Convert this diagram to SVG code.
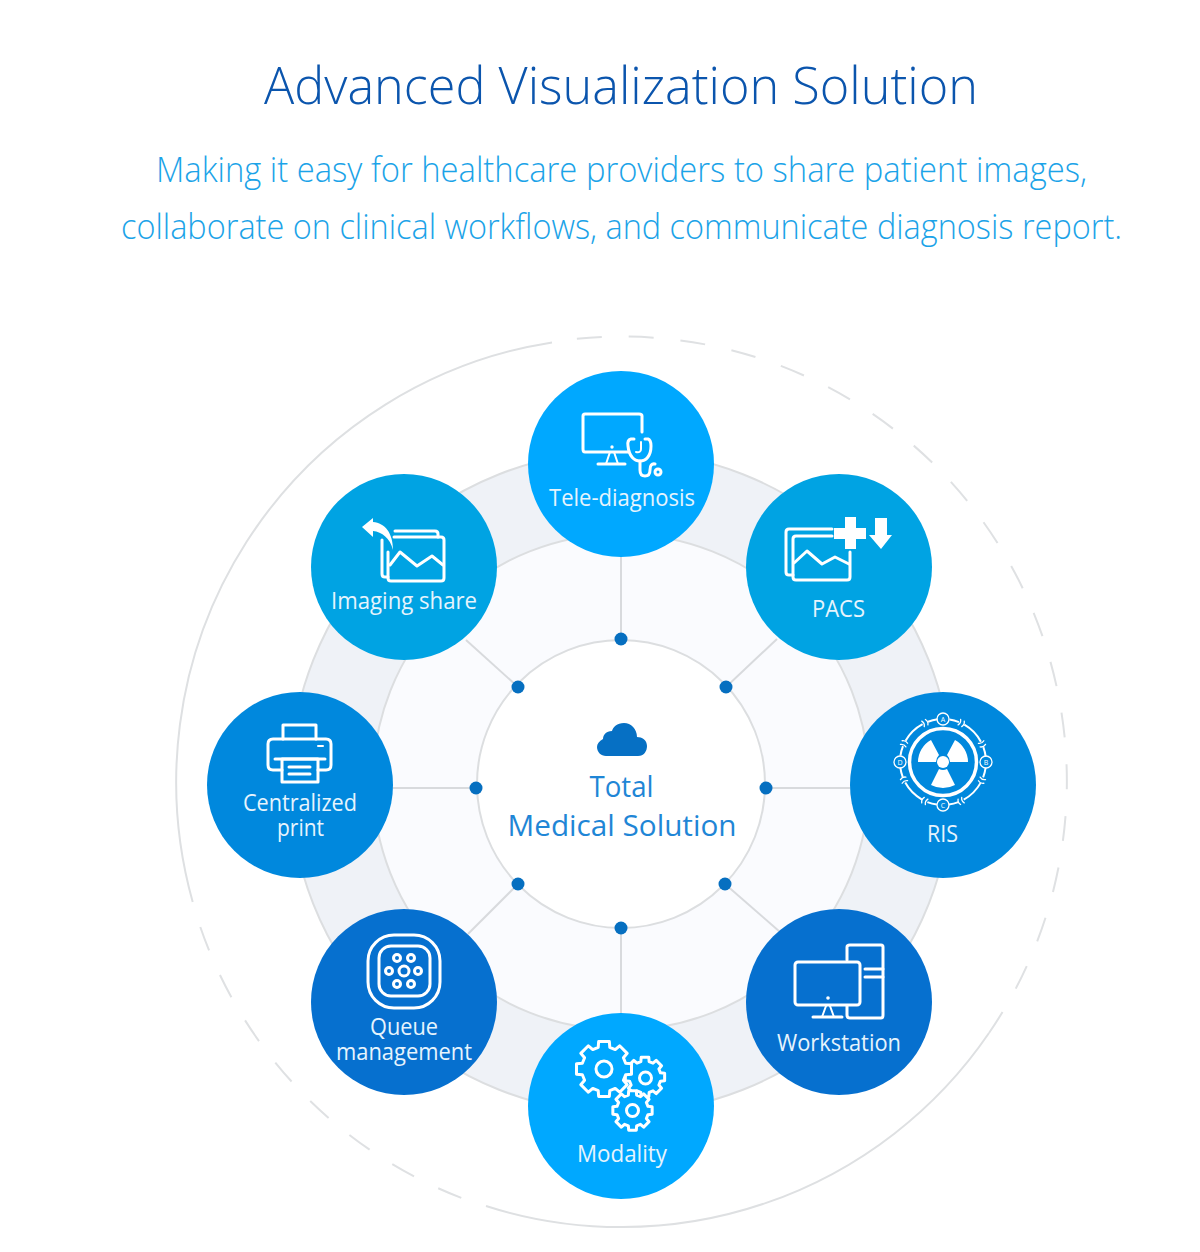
<svg xmlns="http://www.w3.org/2000/svg" width="1200" height="1252" viewBox="0 0 1200 1252">
<style>
text{font-family:"Open Sans","Noto Sans","Liberation Sans",sans-serif;text-anchor:middle}
.title{font-size:52px;font-weight:300;fill:#0b55ad}
.sub{font-size:35px;font-weight:300;fill:#1ba3e8}
.lbl{font-size:23px;fill:#e6f4fd}
.ctr{font-size:30px;fill:#1f86d6}
.ring{fill:none;stroke:#dee0e2;stroke-width:2}
.dash{fill:none;stroke:#dfe1e3;stroke-width:2;stroke-dasharray:25 26.9}
.conn{stroke:#d8dadd;stroke-width:2;fill:none}
.dot{fill:#066fc0}
.ic{fill:none;stroke:#fff;stroke-width:3;stroke-linecap:round;stroke-linejoin:round}
.th{stroke-width:2}
.sf{fill:#fff;stroke:none}
.gear{stroke:#fff;stroke-width:3;stroke-linejoin:round;vector-effect:non-scaling-stroke;fill:#00a8ff}
.tiny{font-size:7px;fill:#fff}
</style>
<defs>
<polygon id="g" class="gear" points=".773,.207 .982,.191 .982,-.191 .773,-.207 .693,-.400 .829,-.559 .559,-.829 .400,-.693 .207,-.773 .191,-.982 -.191,-.982 -.207,-.773 -.400,-.693 -.559,-.829 -.829,-.559 -.693,-.400 -.773,-.207 -.982,-.191 -.982,.191 -.773,.207 -.693,.400 -.829,.559 -.559,.829 -.400,.693 -.207,.773 -.191,.982 .191,.982 .207,.773 .400,.693 .559,.829 .829,.559 .693,.400"/>
<g id="tk"><path d="M941,716 Q943,719 941,722"/><path d="M945,716 Q947,719 945,722"/></g>
</defs>
<rect width="1200" height="1252" fill="#fff"/>
<g id="header">
<text class="title" x="621" y="104" textLength="714" lengthAdjust="spacingAndGlyphs">Advanced Visualization Solution</text>
<text class="sub" x="621.5" y="182" textLength="931" lengthAdjust="spacingAndGlyphs">Making it easy for healthcare providers to share patient images,</text>
<text class="sub" x="621.5" y="239" textLength="1001" lengthAdjust="spacingAndGlyphs">collaborate on clinical workflows, and communicate diagnosis report.</text>
</g>
<g id="rings">
<circle cx="621" cy="782" r="331" fill="#eff2f7" stroke="#dcdee0" stroke-width="2"/>
<circle cx="621" cy="782" r="248" fill="#fafbfe" stroke="#dcdee0" stroke-width="2"/>
<circle cx="621" cy="784" r="144" fill="#fff" stroke="#dcdee0" stroke-width="2"/>
<path class="ring" d="M552,342.4 A445,445 0 0 0 192.7,902"/>
<path class="dash" d="M200.3,927 A445,445 0 0 0 461.6,1198"/>
<path class="ring" d="M486,1206 A445,445 0 0 0 989,1033"/>
<path class="dash" d="M989,1033 A445,445 0 0 0 575,339"/>
</g>
<g id="connectors">
<line class="conn" x1="621" y1="556" x2="621" y2="639"/>
<line class="conn" x1="621" y1="928" x2="621" y2="1013"/>
<line class="conn" x1="393" y1="788" x2="476" y2="788"/>
<line class="conn" x1="766" y1="788" x2="850" y2="788"/>
<line class="conn" x1="726" y1="687" x2="777" y2="639"/>
<line class="conn" x1="518" y1="687" x2="466" y2="640"/>
<line class="conn" x1="725" y1="884" x2="780" y2="932"/>
<line class="conn" x1="518" y1="884" x2="468" y2="934"/>
<circle class="dot" cx="621" cy="639" r="6.5"/>
<circle class="dot" cx="726" cy="687" r="6.5"/>
<circle class="dot" cx="766" cy="788" r="6.5"/>
<circle class="dot" cx="725" cy="884" r="6.5"/>
<circle class="dot" cx="621" cy="928" r="6.5"/>
<circle class="dot" cx="518" cy="884" r="6.5"/>
<circle class="dot" cx="476" cy="788" r="6.5"/>
<circle class="dot" cx="518" cy="687" r="6.5"/>
</g>
<g id="center">
<path fill="#0670c4" d="M606,756 H638 C644,756 647,751 647,746 C647,740 642,737 637,737 C637,729 631,723 624,723 C617,723 613,727 612,731 C606,731 603,735 603,739 C599,741 597,744 597,747 C597,752 601,756 606,756Z"/>
<text class="ctr" x="621.5" y="797" textLength="64" lengthAdjust="spacingAndGlyphs">Total</text>
<text class="ctr" x="622" y="835.5" textLength="229" lengthAdjust="spacingAndGlyphs">Medical Solution</text>
</g>
<g id="tele-diagnosis">
<circle cx="621" cy="464" r="93" fill="#00a8ff"/>
<path class="ic" d="M642,432 V416 Q642,414 639,414 H585 Q583,414 583,416 V449 Q583,452 585,452 H628"/>
<circle class="sf" cx="612" cy="447" r="1.7"/>
<path class="ic th" d="M610,452 L606,464 M614,452 L618,464"/>
<path class="ic" d="M598,464 H625"/>
<path class="ic" d="M634,439 H631 Q627,440 628,446 C629,456 634,461 640,461 C646,461 651,456 651,446 Q651,440 648,439 H645"/>
<path class="ic th" d="M641,442 V449 Q641,453 636,452"/>
<path class="ic" d="M640,461 V470 Q640,476 645,476 Q650,476 650,470 Q650,463 655,464"/>
<circle class="ic" cx="658" cy="472" r="3"/>
<text class="lbl" x="622" y="506" textLength="146" lengthAdjust="spacingAndGlyphs">Tele-diagnosis</text>
</g>
<g id="pacs">
<circle cx="839" cy="567" r="93" fill="#00a3e3"/>
<path class="ic" d="M832,529 H789 Q786,529 786,532 V572 Q786,575 789,575 H793"/>
<path class="ic" d="M832,536 H796 Q793,536 793,539 V577 Q793,580 796,580 H847 Q850,580 850,577 V552"/>
<path class="ic" d="M794,563 L807,551 L822,564 L835,557 L849,564"/>
<path class="sf" d="M845,517 H856 V528 H866 V539 H856 V549 H845 V539 H834 V528 H845Z"/>
<path class="sf" d="M875,518 H887 V535 H892 L881,549 L869,535 H875Z"/>
<text class="lbl" x="838.5" y="617" textLength="53" lengthAdjust="spacingAndGlyphs">PACS</text>
</g>
<g id="ris">
<circle cx="943" cy="785" r="93" fill="#0088dd"/>
<circle class="ic" cx="943" cy="762" r="33.5" style="stroke-width:3.5"/>
<circle class="ic th" cx="943" cy="762" r="43" stroke-dasharray="9.8 6 24 6 9.8 12" stroke-dashoffset="-6" style="stroke-linecap:butt"/>
<circle class="sf" cx="943" cy="762" r="6"/>
<path class="sf" d="M918,762 H936 Q936,758 939,755 L931,740 A25,25 0 0 0 918,762Z"/>
<path class="sf" d="M968,762 H950 Q950,758 947,755 L955,740 A25,25 0 0 1 968,762Z"/>
<path class="sf" d="M947,769 L955,785 A26,26 0 0 1 931,785 L939,769 Q943,771 947,769Z"/>
<g class="ic th" style="stroke-width:1.3">
<use href="#tk" transform="rotate(25 943 762)"/><use href="#tk" transform="rotate(65 943 762)"/><use href="#tk" transform="rotate(115 943 762)"/><use href="#tk" transform="rotate(155 943 762)"/><use href="#tk" transform="rotate(205 943 762)"/><use href="#tk" transform="rotate(245 943 762)"/><use href="#tk" transform="rotate(295 943 762)"/><use href="#tk" transform="rotate(335 943 762)"/>
<circle cx="943" cy="719" r="6"/><circle cx="986" cy="762" r="6"/><circle cx="943" cy="805" r="6"/><circle cx="900" cy="762" r="6"/>
</g>
<text class="tiny" x="943" y="721.5">A</text><text class="tiny" x="986" y="764.5">B</text><text class="tiny" x="943" y="807.5">C</text><text class="tiny" x="900" y="764.5">D</text>
<text class="lbl" x="942.5" y="842" textLength="31" lengthAdjust="spacingAndGlyphs">RIS</text>
</g>
<g id="workstation">
<circle cx="839" cy="1002" r="93" fill="#0670cf"/>
<rect class="ic" x="795" y="962" width="65" height="43" rx="3"/>
<circle class="sf" cx="828" cy="998" r="1.8"/>
<path class="ic th" d="M826,1006 L822,1017 M830,1006 L834,1017"/>
<path class="ic" d="M813,1017 H842"/>
<path class="ic" d="M847,960 V947 Q847,945 850,945 H881 Q883,945 883,947 V1015 Q883,1018 881,1018 H850 Q847,1018 847,1015 V1006"/>
<path class="ic" d="M865,969 H883 M865,977 H883"/>
<text class="lbl" x="839" y="1051" textLength="124" lengthAdjust="spacingAndGlyphs">Workstation</text>
</g>
<g id="modality">
<circle cx="621" cy="1106" r="93" fill="#00a8ff"/>
<use href="#g" transform="translate(645 1077) scale(20)"/>
<use href="#g" transform="translate(604 1069) scale(28)"/>
<use href="#g" transform="translate(632.5 1110.5) scale(20)"/>
<circle class="ic" cx="604" cy="1069" r="8"/>
<circle class="ic" cx="645.5" cy="1078" r="6"/>
<circle class="ic" cx="632.5" cy="1110.5" r="6"/>
<text class="lbl" x="622" y="1162" textLength="90" lengthAdjust="spacingAndGlyphs">Modality</text>
</g>
<g id="queue-management">
<circle cx="404" cy="1002" r="93" fill="#0670cf"/>
<rect class="ic" x="368" y="935" width="72" height="73" rx="26"/>
<rect class="ic" x="379" y="946" width="51" height="50" rx="12"/>
<circle class="ic" cx="404" cy="971" r="5"/>
<g class="ic"><circle cx="397" cy="958" r="3.5"/><circle cx="411" cy="958" r="3.5"/><circle cx="389" cy="971" r="3.5"/><circle cx="418" cy="971" r="3.5"/><circle cx="397" cy="984" r="3.5"/><circle cx="411" cy="984" r="3.5"/></g>
<text class="lbl" x="404" y="1035" textLength="68" lengthAdjust="spacingAndGlyphs">Queue</text>
<text class="lbl" x="404" y="1060" textLength="136" lengthAdjust="spacingAndGlyphs">management</text>
</g>
<g id="centralized-print">
<circle cx="300" cy="785" r="93" fill="#0088dd"/>
<path class="ic" d="M283,739 V725 H316 V739"/>
<path class="ic" d="M282,770 H273 Q268,770 268,765 V744 Q268,739 273,739 H326 Q331,739 331,744 V765 Q331,770 326,770 H318"/>
<rect class="ic" x="282" y="759" width="36" height="23"/>
<path class="ic" d="M275,759 H325"/>
<path class="ic" d="M289,767 H310 M289,774 H310"/>
<path class="ic th" d="M318,746 H323"/>
<text class="lbl" x="300" y="811" textLength="114" lengthAdjust="spacingAndGlyphs">Centralized</text>
<text class="lbl" x="300.5" y="836" textLength="47" lengthAdjust="spacingAndGlyphs">print</text>
</g>
<g id="imaging-share">
<circle cx="404" cy="567" r="93" fill="#00a3e3"/>
<path class="ic" d="M395,531 H435 Q438,531 438,534 V537 M382,540 V574 Q382,577 385,577 H388"/>
<path class="ic" d="M394,537 H441 Q444,537 444,540 V578 Q444,581 441,581 H391 Q388,581 388,578 V552"/>
<path class="ic" d="M390,565 L400,552 L417,566 L432,556 L443,565"/>
<path class="sf" d="M362,527 L373,518 V522 C385,523 393,533 393,550 C390,538 382,532 373,531 V537Z"/>
<text class="lbl" x="404" y="609" textLength="146" lengthAdjust="spacingAndGlyphs">Imaging share</text>
</g>
</svg>
